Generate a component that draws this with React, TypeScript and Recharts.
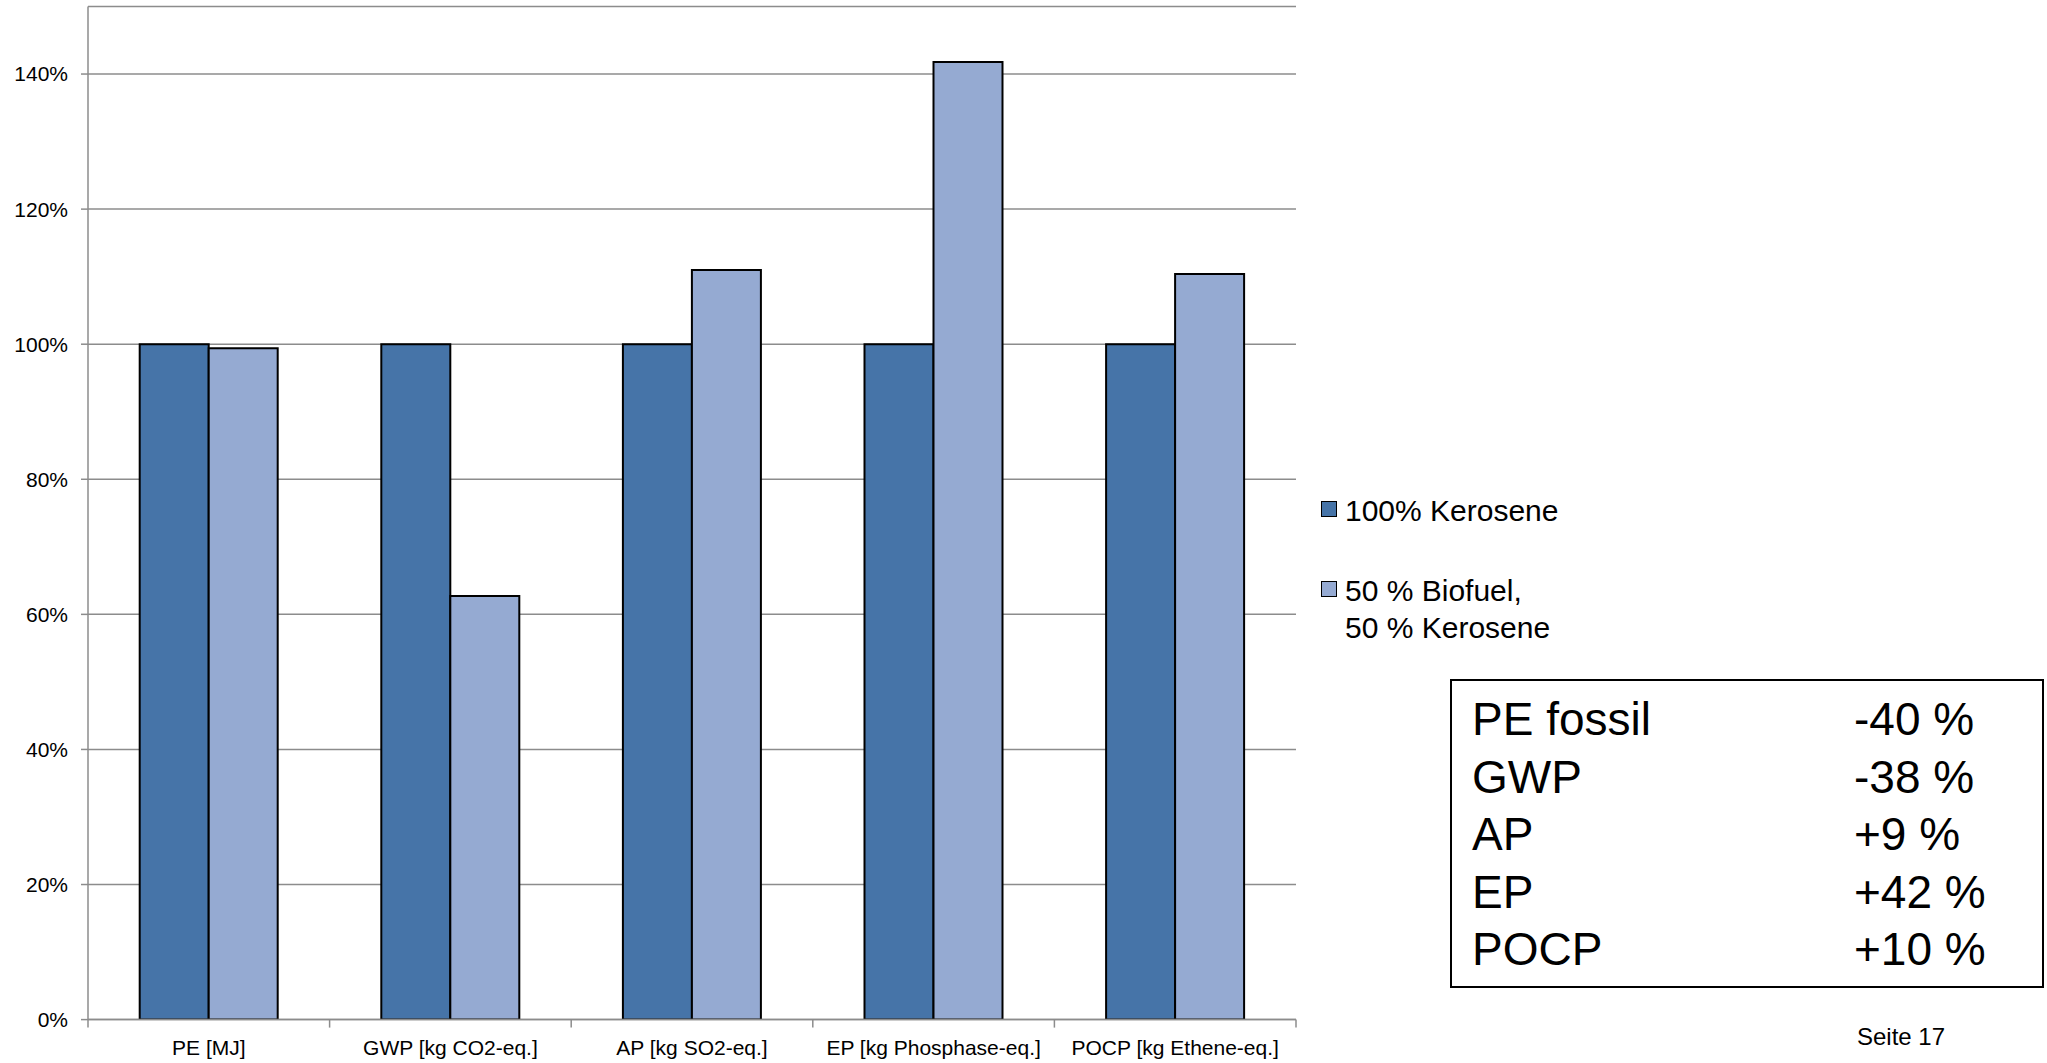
import { Bar, BarChart, CartesianGrid, XAxis, YAxis } from "recharts";

const categories = [
  "PE [MJ]",
  "GWP [kg CO2-eq.]",
  "AP [kg SO2-eq.]",
  "EP [kg Phosphase-eq.]",
  "POCP [kg Ethene-eq.]",
];
const kerosene = [100, 100, 100, 100, 100];
const biofuel = [99.4, 62.7, 111.0, 141.8, 110.4];
const yTicks = [0, 20, 40, 60, 80, 100, 120, 140];

const seriesNames = ["100% Kerosene", "50 % Biofuel,\n50 % Kerosene"];
const boxLabels = ["PE fossil", "GWP", "AP", "EP", "POCP"];
const boxValues = ["-40 %", "-38 %", "+9 %", "+42 %", "+10 %"];

const DARK = "#4674A8";
const LIGHT = "#95AAD2";
const AXIS = "#8c8c8c";
const seriesColors = [DARK, LIGHT];
const FONT = "'Liberation Sans', Arial, Helvetica, sans-serif";

const CHART_W = 2047;
const MARGIN_RIGHT = 751;
const Y_AXIS_W = 88;
const BAND = (CHART_W - MARGIN_RIGHT - Y_AXIS_W) / categories.length;

const data = categories.map((name, i) => ({
  name,
  kerosene: kerosene[i],
  biofuel: biofuel[i],
}));

// category label plus Excel-style tick marks between the categories
function CategoryTick(props: any) {
  const { x, y, payload, index } = props;
  const left = x - BAND / 2;
  return (
    <g>
      <line x1={left} x2={left} y1={y} y2={y + 8} stroke={AXIS} strokeWidth={1.5} />
      {index === categories.length - 1 && (
        <line x1={x + BAND / 2} x2={x + BAND / 2} y1={y} y2={y + 8} stroke={AXIS} strokeWidth={1.5} />
      )}
      <text x={x} y={y + 20} dy="0.71em" textAnchor="middle" fill="#000" fontSize={21} fontFamily={FONT}>
        {payload.value}
      </text>
    </g>
  );
}

function ChartLegend() {
  return (
    <div
      style={{
        position: "absolute",
        left: 1321,
        top: 492,
        fontSize: 30,
        lineHeight: "37px",
        color: "#000",
      }}
    >
      {seriesNames.map((name, i) => (
        <div key={i} style={{ position: "relative", paddingLeft: 24, marginBottom: i === 0 ? 43 : 0 }}>
          <span
            style={{
              position: "absolute",
              left: 0,
              top: 9,
              width: 14,
              height: 14,
              background: seriesColors[i],
              border: "1.5px solid #000",
            }}
          />
          {name.split("\n").map((line, j) => (
            <div key={j} style={{ whiteSpace: "nowrap" }}>{line}</div>
          ))}
        </div>
      ))}
    </div>
  );
}

export default function App() {
  return (
    <div
      style={{
        position: "absolute",
        left: 0,
        top: 0,
        width: CHART_W,
        height: 1063,
        background: "#fff",
        fontFamily: FONT,
      }}
    >
      <BarChart
        width={CHART_W}
        height={1063}
        data={data}
        margin={{ top: 6.5, right: MARGIN_RIGHT, bottom: 0, left: 0 }}
        barCategoryGap="21.4%"
        barGap={0}
      >
        <CartesianGrid horizontal vertical={false} stroke={AXIS} strokeWidth={1.5} />
        <XAxis
          dataKey="name"
          height={43.4}
          interval={0}
          tickLine={false}
          tickSize={0}
          tickMargin={0}
          axisLine={{ stroke: AXIS, strokeWidth: 1.5 }}
          tick={<CategoryTick />}
        />
        <YAxis
          width={Y_AXIS_W}
          domain={[0, 150]}
          ticks={yTicks}
          allowDataOverflow
          tickFormatter={(v) => `${v}%`}
          tickSize={7}
          tickMargin={13}
          axisLine={{ stroke: AXIS, strokeWidth: 1.5 }}
          tickLine={{ stroke: AXIS, strokeWidth: 1.5 }}
          tick={{ fill: "#000", fontSize: 21, fontFamily: FONT }}
        />
        <Bar
          dataKey="kerosene"
          name={seriesNames[0]}
          fill={DARK}
          stroke="#000"
          strokeWidth={2}
          isAnimationActive={false}
        />
        <Bar
          dataKey="biofuel"
          name={seriesNames[1]}
          fill={LIGHT}
          stroke="#000"
          strokeWidth={2}
          isAnimationActive={false}
        />
      </BarChart>

      <ChartLegend />

      <div
        style={{
          position: "absolute",
          left: 1450,
          top: 679,
          width: 590,
          height: 295,
          border: "2px solid #000",
          paddingTop: 10,
          boxSizing: "content-box",
          fontSize: 46,
          lineHeight: "57.5px",
          color: "#000",
        }}
      >
        {boxLabels.map((label, i) => (
          <div key={label} style={{ position: "relative", height: 57.5 }}>
            <span style={{ position: "absolute", left: 20 }}>{label}</span>
            <span style={{ position: "absolute", left: 402 }}>{boxValues[i]}</span>
          </div>
        ))}
      </div>

      <div
        style={{
          position: "absolute",
          left: 1857,
          top: 1025,
          fontSize: 24,
          lineHeight: "24px",
          color: "#000",
        }}
      >
        Seite 17
      </div>
    </div>
  );
}
